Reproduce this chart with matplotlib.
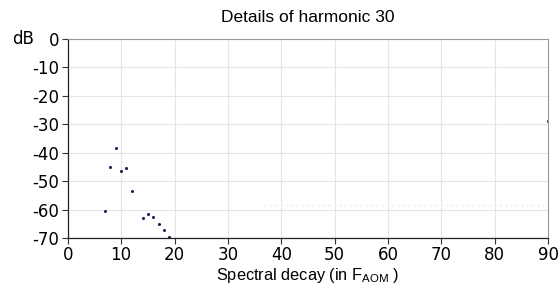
import matplotlib
matplotlib.use("Agg")
import matplotlib.pyplot as plt

plt.rcParams['axes.unicode_minus'] = False

# harmonic decay points
harm_x = [7, 8, 9, 10, 11, 12, 14, 15, 16, 17, 18, 19, 90]
harm_db = [-60.5, -45.0, -38.2, -46.5, -45.4, -53.4, -63.1, -61.6, -62.7, -65.0, -67.2, -69.8, -28.8]

# faint noise floor
floor_x = list(range(37, 91))
floor_db = [-58.5] * len(floor_x)

x_ticks = [0, 10, 20, 30, 40, 50, 60, 70, 80, 90]
y_ticks = [0, -10, -20, -30, -40, -50, -60, -70]

fig = plt.figure(figsize=(5.6, 2.85), dpi=100)
ax = fig.add_axes([0.121, 0.165, 0.858, 0.698])

ax.plot(floor_x, floor_db, ls='none', marker='.', ms=1.5, color='#f0f0f5')
ax.plot(harm_x, harm_db, ls='none', marker='o', ms=2.2, color='#1c1c55', mew=0)

ax.set_xlim(0, 90)
ax.set_ylim(-70, 0)
ax.set_xticks(x_ticks)
ax.set_yticks(y_ticks)
ax.tick_params(labelsize=12, length=4, width=0.8, color='#333333', pad=2)
ax.grid(True, color='#e4e4f0', lw=0.8)
ax.set_axisbelow(True)

for s in ['top', 'right']:
    ax.spines[s].set_color('#999999')
    ax.spines[s].set_linewidth(0.8)
for s in ['left', 'bottom']:
    ax.spines[s].set_color('#222222')
    ax.spines[s].set_linewidth(0.9)

ax.set_title("Details of harmonic 30", fontsize=12.5, family='Liberation Sans', pad=12)
ax.set_xlabel("Spectral decay (in F$_{\\mathregular{AOM}}$ )", fontsize=11.8,
              family='Liberation Sans', labelpad=1)
fig.text(0.021, 0.863, "dB", fontsize=12, va='center', ha='left')

fig.savefig("out.png", dpi=100)
